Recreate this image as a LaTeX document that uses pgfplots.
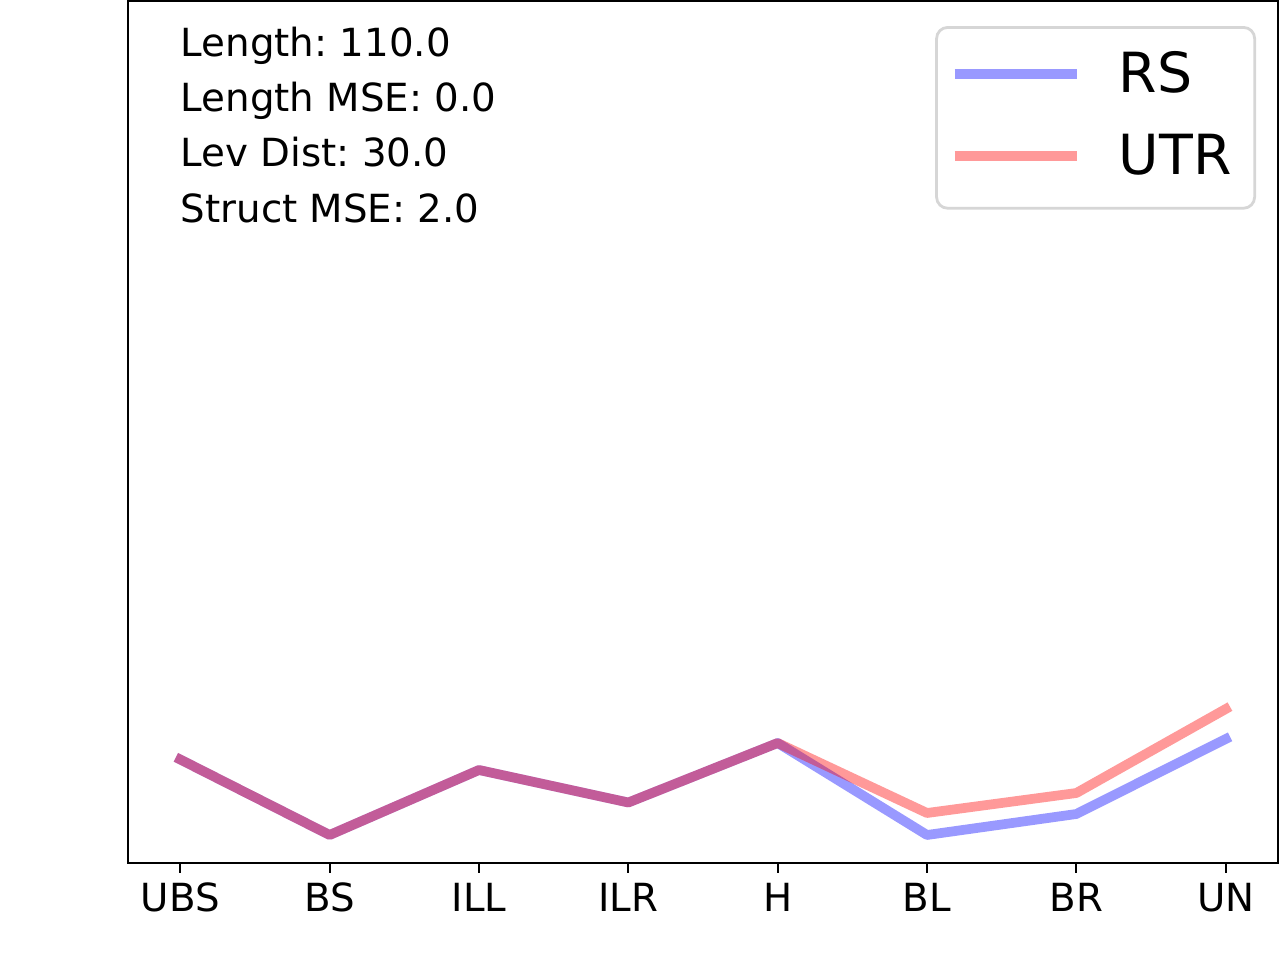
\documentclass[border=0pt]{standalone}
\usepackage{pgfplots}
\pgfplotsset{compat=1.18}
\usepackage{fontspec}
\setmainfont{DejaVu Sans}
\frenchspacing
\definecolor{legendgray}{HTML}{D6D6D6}

\begin{document}
\begin{tikzpicture}
\path[use as bounding box] (-46.08bp,-34.92bp) rectangle (414.72bp,310.68bp);
\begin{axis}[
    scale only axis,
    width=414bp,
    height=310.32bp,
    xmin=-0.35, xmax=7.35,
    ymin=0, ymax=862,
    xtick={0,...,7},
    xticklabels={UBS,BS,ILL,ILR,H,BL,BR,UN},
    ytick=\empty,
    xtick pos=bottom,
    tick align=outside,
    major tick length=3.5bp,
    tick style={black, line width=0.8bp},
    axis line style={line width=0.8bp},
    xticklabel style={font=\fontsize{14}{17}\selectfont, anchor=base, yshift=-14.04bp},
    legend cell align=left,
    legend style={
      at={(rel axis cs:0.9809,0.971)},
      anchor=north east,
      draw=legendgray,
      line width=1bp,
      rounded corners=4bp,
      inner xsep=8.3bp,
      inner ysep=4.4bp,
      column sep=13.3bp,
      row sep=2.7bp,
      font=\fontsize{20}{24}\selectfont,
      nodes={inner sep=0pt, text height=18.9bp, text depth=7.9bp},
    },
    legend image code/.code={
      \path[draw=none, fill=none] (0bp,1.1bp) -- (44bp,1.1bp);
      \draw[#1, overlay, line width=3.5bp, line cap=butt] (-1.8bp,1.1bp) -- (42.2bp,1.1bp);
    },
]

  % RS
  \addplot [blue, opacity=0.4, line width=3.5bp, line join=round, line cap=rect] coordinates {
    (0,103.5) (1,28) (2,93) (3,60.5) (4,120) (5,28) (6,49) (7,124)
  };

  % UTR
  \addplot [red, opacity=0.4, line width=3.5bp, line join=round, line cap=rect] coordinates {
    (0,103.5) (1,28) (2,93) (3,60.5) (4,120) (5,50) (6,70) (7,154)
  };

  \legend{RS,UTR}

  \node[anchor=base west, inner sep=0pt, font=\fontsize{14}{17}\selectfont] at (axis cs:0,806.3) {Length: 110.0};
  \node[anchor=base west, inner sep=0pt, font=\fontsize{14}{17}\selectfont] at (axis cs:0,751.3) {Length MSE: 0.0};
  \node[anchor=base west, inner sep=0pt, font=\fontsize{14}{17}\selectfont] at (axis cs:0,696.3) {Lev Dist: 30.0};
  \node[anchor=base west, inner sep=0pt, font=\fontsize{14}{17}\selectfont] at (axis cs:0,640.3) {Struct MSE: 2.0};

\end{axis}
\end{tikzpicture}
\end{document}
